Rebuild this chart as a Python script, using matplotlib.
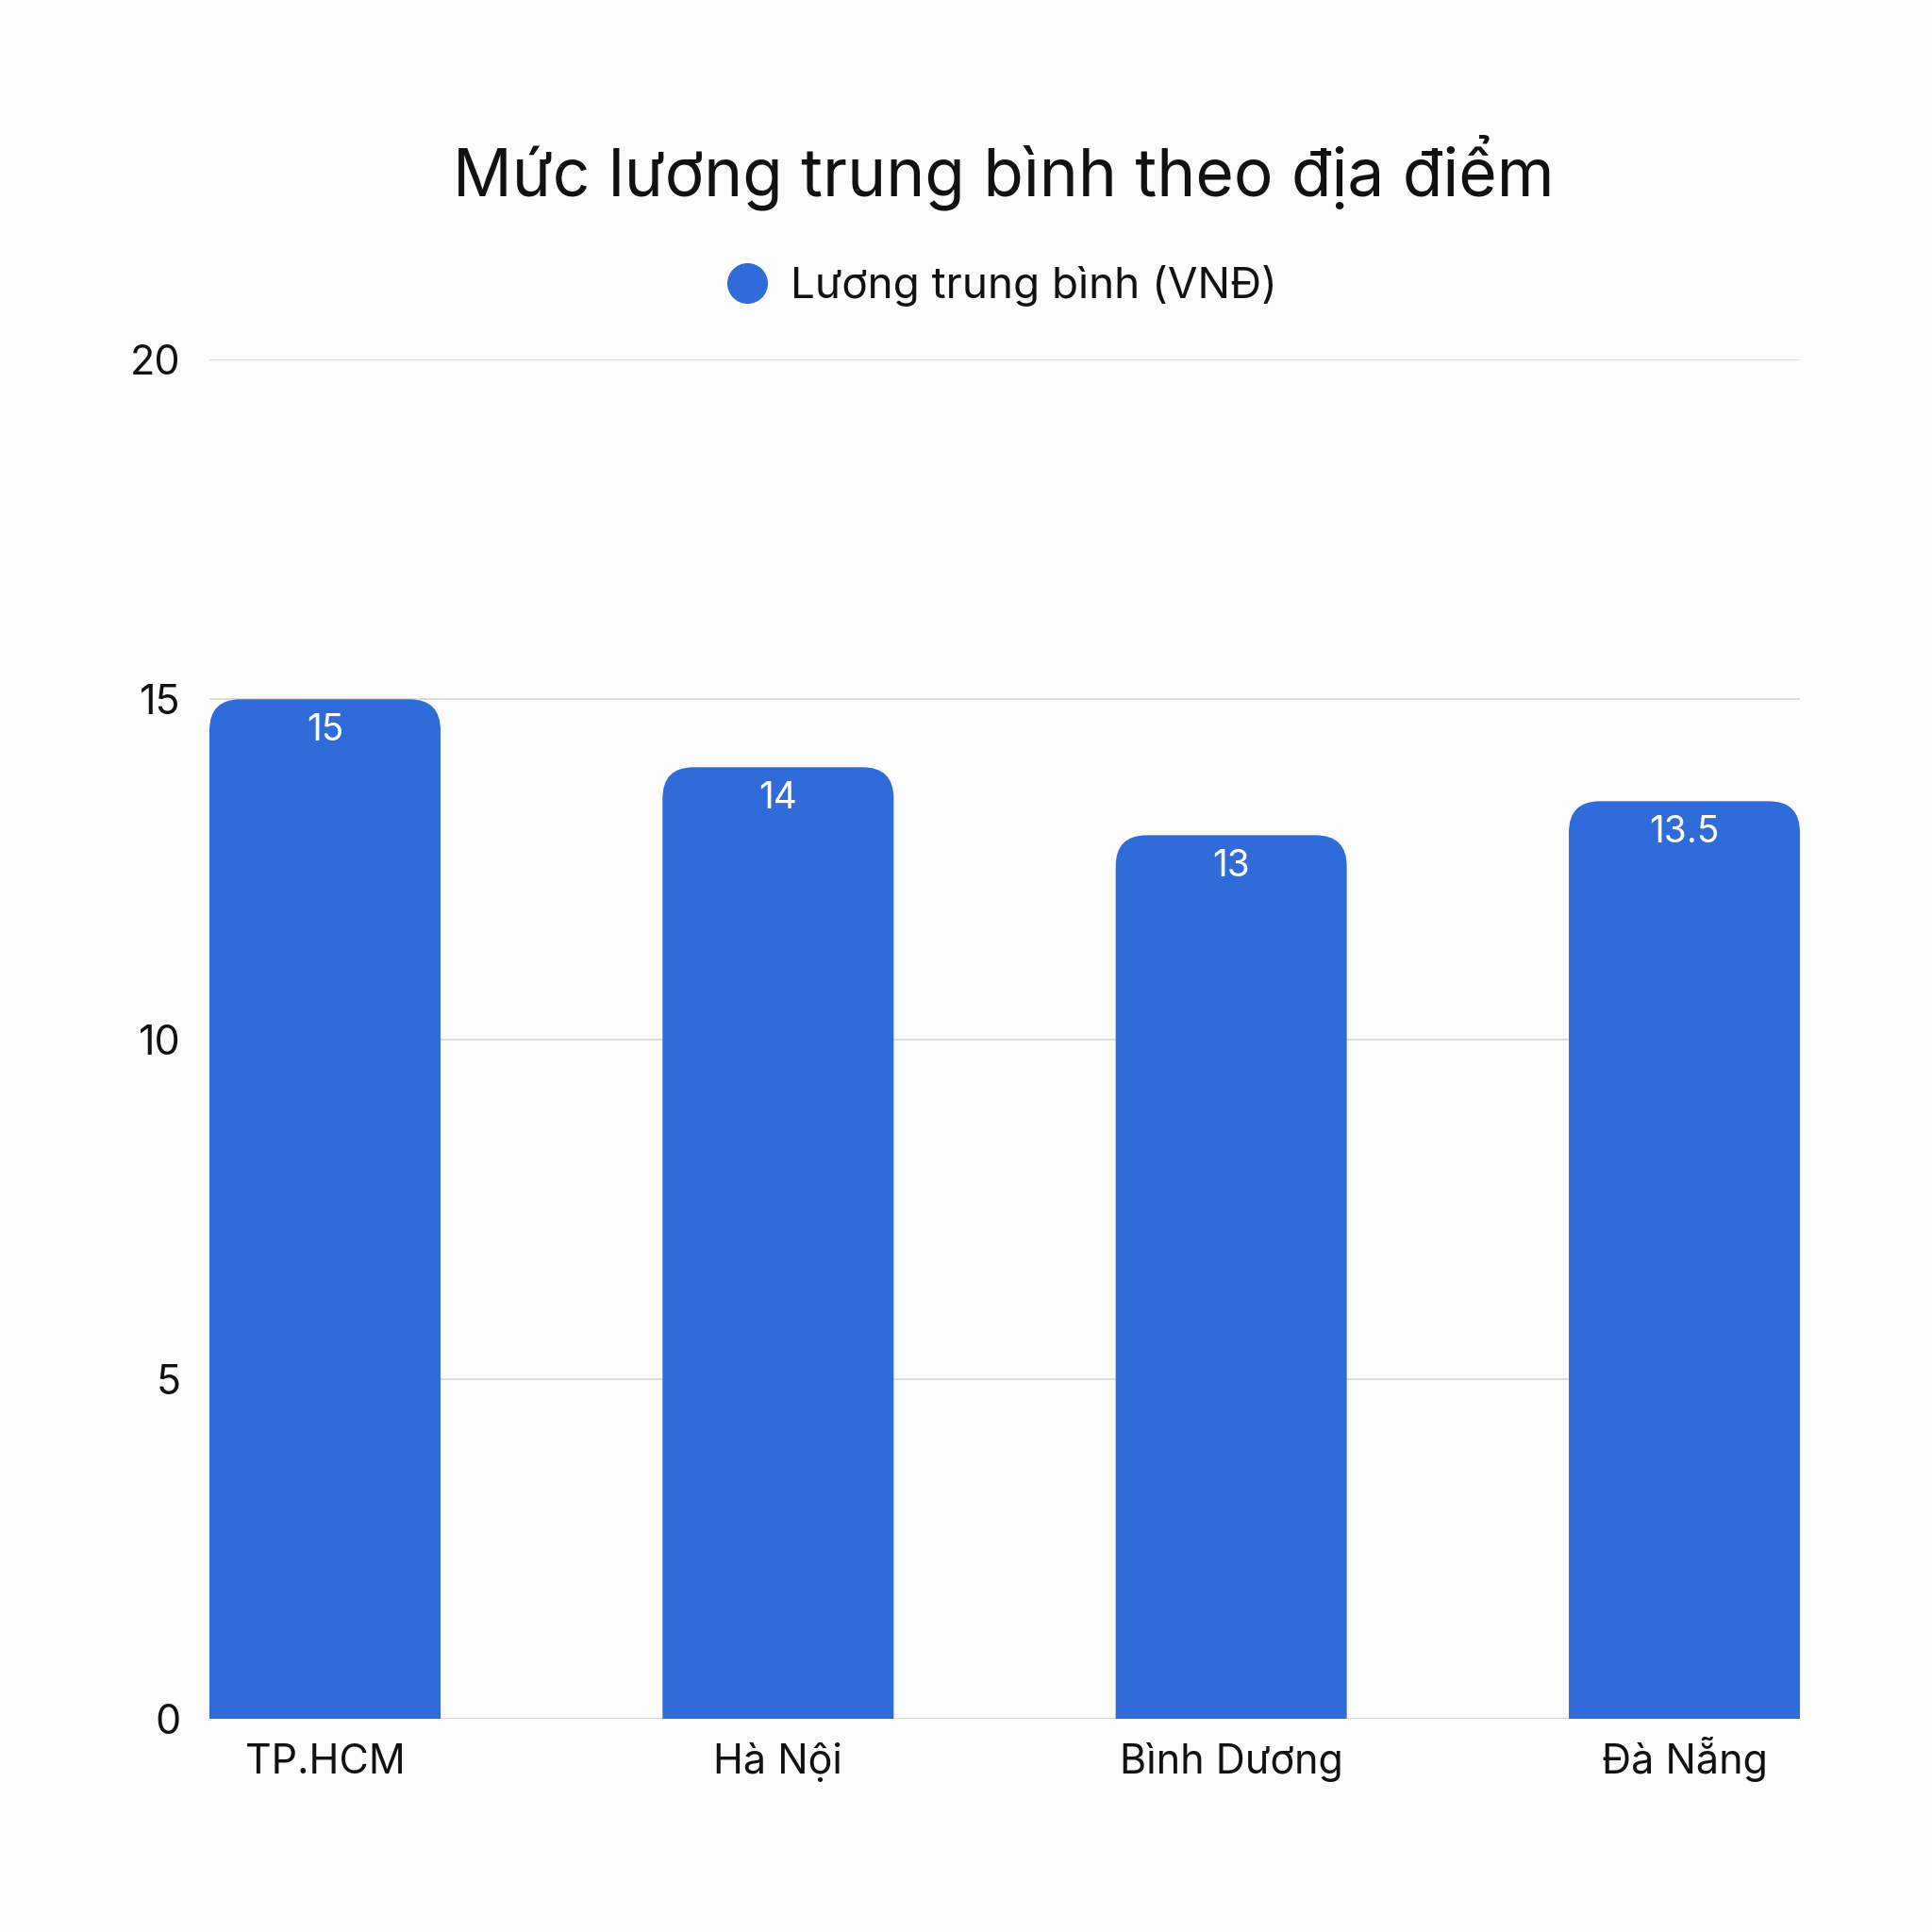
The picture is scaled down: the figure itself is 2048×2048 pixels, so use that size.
import matplotlib.pyplot as plt
from matplotlib.path import Path
from matplotlib.patches import PathPatch
from matplotlib.lines import Line2D

plt.rcParams['font.family'] = ['Inter', 'DejaVu Sans']

# data
locations = ["TP.HCM", "Hà Nội", "Bình Dương", "Đà Nẵng"]
salary = [15, 14, 13, 13.5]
series_name = "Lương trung bình (VNĐ)"
title = "Mức lương trung bình theo địa điểm"
y_ticks = [0, 5, 10, 15, 20]

bar_color = "#306CD9"
bg = "#FCFCFC"


def rounded_top(x0, w, h, rx, ry):
    # bar path with the two top corners rounded
    verts = [
        (x0, 0), (x0, h - ry),
        (x0, h), (x0 + rx, h),
        (x0 + w - rx, h),
        (x0 + w, h), (x0 + w, h - ry),
        (x0 + w, 0), (x0, 0),
    ]
    codes = [Path.MOVETO, Path.LINETO,
             Path.CURVE3, Path.CURVE3,
             Path.LINETO,
             Path.CURVE3, Path.CURVE3,
             Path.LINETO, Path.CLOSEPOLY]
    return Path(verts, codes)


fig = plt.figure(figsize=(20.48, 20.48), dpi=100, facecolor=bg)
ax = fig.add_axes([222 / 2048, 1 - 1822 / 2048, (1908 - 222) / 2048, (1822 - 381) / 2048])
ax.set_facecolor(bg)

ax.set_xlim(-0.255, 3.255)
ax.set_ylim(0, 20)

bars = ax.bar(range(len(locations)), salary, width=0.51, color=bar_color, zorder=3)

# corner radius ~33px converted to data units
px_x = (1908 - 222) / 3.51
px_y = (1822 - 381) / 20
rx = 33 / px_x
ry = 33 / px_y
for rect in bars:
    rect.set_visible(False)
    p = rounded_top(rect.get_x(), rect.get_width(), rect.get_height(), rx, ry)
    ax.add_patch(PathPatch(p, facecolor=bar_color, edgecolor="none", zorder=3))
    ax.annotate(f"{rect.get_height():g}",
                (rect.get_x() + rect.get_width() / 2, rect.get_height()),
                xytext=(0, -24), textcoords="offset points",
                ha="center", va="center", color="white", fontsize=28, zorder=4)

ax.set_yticks(y_ticks)
ax.set_yticklabels([str(t) for t in y_ticks])
ax.set_xticks(range(len(locations)))
ax.set_xticklabels(locations)
ax.grid(axis="y", color="#D9D9D9", linewidth=1.3, zorder=0)
ax.axhline(0, color="#D9D9D9", linewidth=2.5, zorder=2)
for s in ax.spines.values():
    s.set_visible(False)
ax.tick_params(axis="both", length=0, labelsize=31, colors="#111111")
ax.tick_params(axis="y", pad=22)
ax.tick_params(axis="x", pad=42)
for lbl in ax.get_xticklabels():
    lbl.set_va("baseline")

fig.text(1064 / 2048, 1 - 183 / 2048, title, ha="center", va="center", fontsize=50, color="#111111")

handle = Line2D([], [], marker="o", linestyle="none", markersize=30,
                markerfacecolor=bar_color, markeredgecolor=bar_color)
fig.legend([handle], [series_name], loc="center", bbox_to_anchor=(1058 / 2048, 1 - 303 / 2048),
           frameon=False, fontsize=33, handletextpad=0.35, handlelength=1.3,
           labelcolor="#111111")

fig.savefig("out.png", dpi=100, facecolor=bg)
